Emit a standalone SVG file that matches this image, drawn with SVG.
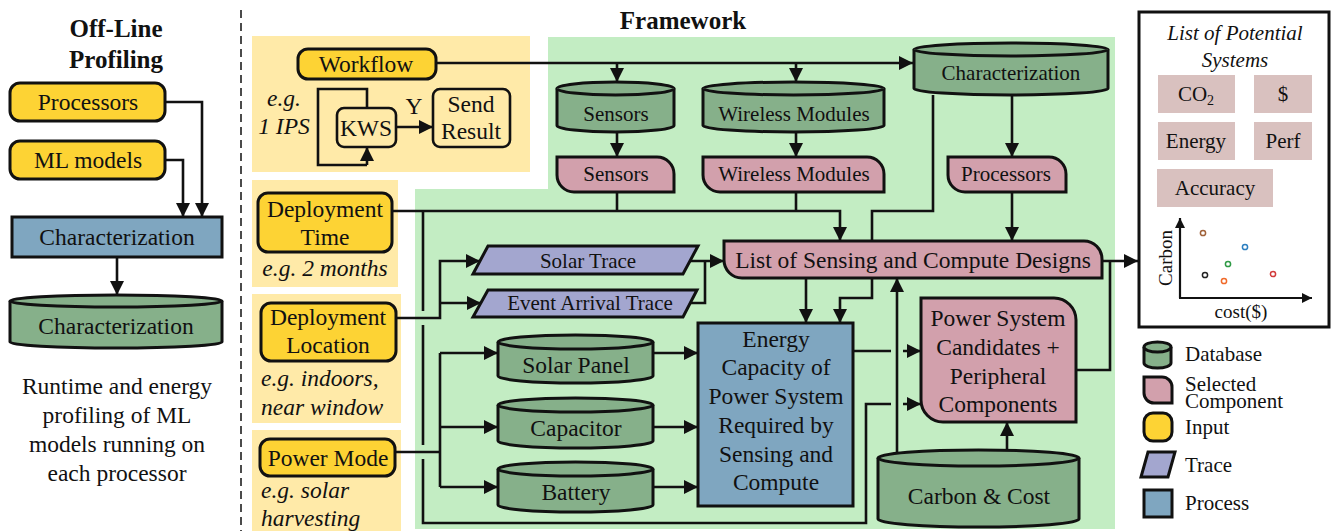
<svg xmlns="http://www.w3.org/2000/svg" width="1333" height="531" viewBox="0 0 1333 531">
<defs>
<style>
.t{font-family:'Liberation Serif','DejaVu Serif',serif;fill:#111;text-anchor:middle;dominant-baseline:central}
.L{font-size:23.5px}
.S{font-size:21px}
.X{font-size:19px}
.it{font-style:italic}
.b{font-weight:bold;font-size:25px;dominant-baseline:alphabetic}
.st{text-anchor:start}
.in{fill:#FDD334;stroke:#111;stroke-width:3}
.db{fill:#86B08A;stroke:#111;stroke-width:3}
.sel{fill:#D2A0AC;stroke:#111;stroke-width:3}
.tr{fill:#A3A6CF;stroke:#111;stroke-width:3}
.pr{fill:#7FA6C0;stroke:#111;stroke-width:3}
.wf{fill:none;stroke:#111;stroke-width:2.6}
.c{fill:none;stroke:#111;stroke-width:2.6}
.ca{fill:none;stroke:#111;stroke-width:2.6;marker-end:url(#ah)}
.pan{fill:#FFEAA8}
.ps{fill:#D9C1BF}
</style>
<marker id="ah" viewBox="0 0 10 10" refX="10" refY="5" markerWidth="14" markerHeight="14" markerUnits="userSpaceOnUse" orient="auto"><path d="M0,0 L10,5 L0,10 z" fill="#111"/></marker>
<marker id="ahs" viewBox="0 0 10 10" refX="10" refY="5" markerWidth="10" markerHeight="10" markerUnits="userSpaceOnUse" orient="auto"><path d="M0,0 L10,5 L0,10 z" fill="#111"/></marker>
</defs>
<rect width="1333" height="531" fill="#fff"/>

<!-- backgrounds -->
<g id="backgrounds">
<polygon points="548,37 1115,37 1115,529 415,529 415,189 548,189" fill="#C3EDC3"/>
<rect class="pan" x="252" y="36" width="278" height="136"/>
<rect class="pan" x="252" y="180" width="146" height="107"/>
<rect class="pan" x="252" y="294" width="149" height="129"/>
<rect class="pan" x="252" y="430" width="149" height="101"/>
<path d="M241,10 V531" stroke="#111" stroke-width="1.5" stroke-dasharray="8 5" fill="none"/>
</g>

<!-- titles -->
<text class="t b" x="116" y="37">Off-Line</text>
<text class="t b" x="116" y="68">Profiling</text>
<text class="t b" x="683" y="29">Framework</text>

<!-- connectors -->
<g id="connectors">
<path class="ca" d="M165,102 H202 V217"/>
<path class="ca" d="M165,160 H183 V217"/>
<path class="ca" d="M117,257 V295"/>
<path class="wf" d="M367,108 V89 H318 V165 H367"/>
<path class="ca" d="M367,165 V147"/>
<path class="ca" d="M396,127 H433"/>
<path class="ca" d="M436,63 H913"/>
<path class="ca" d="M617,63 V82"/>
<path class="ca" d="M796,63 V82"/>
<path class="ca" d="M617,132 V157"/>
<path class="ca" d="M796,132 V157"/>
<path class="c" d="M617,192 V211"/>
<path class="c" d="M796,192 V211"/>
<path class="ca" d="M392,211 H840 V241"/>
<path class="ca" d="M933,95 V211 H872 V298 H840 V323"/>
<path class="ca" d="M806,278 V323"/>
<path class="ca" d="M1012,95 V157"/>
<path class="ca" d="M1012,192 V241"/>
<path class="ca" d="M423,211 V311 M423,325 V445 M423,459 V523 H866 V404 H891 M903,404 H921"/>
<path class="ca" d="M396,318 H440 V261 H480"/>
<path class="ca" d="M440,303 H481"/>
<path class="c" d="M395,452 H440"/>
<path class="c" d="M440,353 V487"/>
<path class="ca" d="M440,353 H498"/>
<path class="ca" d="M440,427 H498"/>
<path class="ca" d="M440,487 H498"/>
<path class="ca" d="M653,353 H698"/>
<path class="ca" d="M653,427 H698"/>
<path class="ca" d="M653,487 H698"/>
<path class="ca" d="M690,261 H724"/>
<path class="c" d="M690,303 H705 V261"/>
<path class="ca" d="M853,351 H891 M903,351 H921"/>
<path class="ca" d="M897,452 V278"/>
<path class="ca" d="M1007,452 V422"/>
<path class="c" d="M1076,370 H1110 V261"/>
<path class="ca" d="M1102,261 H1138"/>
</g>

<!-- left panel nodes -->
<g id="off-processors"><rect class="in" x="10" y="83" width="155" height="38" rx="10"/><text class="t L" x="88" y="102">Processors</text></g>
<g id="off-ml"><rect class="in" x="10" y="141" width="155" height="38" rx="10"/><text class="t L" x="88" y="160">ML models</text></g>
<g id="off-char-proc"><rect class="pr" x="12" y="217" width="210" height="40"/><text class="t L" x="117" y="237">Characterization</text></g>
<g id="off-char-db"><path class="db" d="M10,301 A106,6 0 0 1 222,301 V342 A106,6 0 0 1 10,342 Z"/><path class="db" d="M10,301 A106,6 0 0 0 222,301" fill="none"/><text class="t L" x="116" y="326">Characterization</text></g>
<g id="off-desc">
<text class="t L" x="117" y="386">Runtime and energy</text>
<text class="t L" x="117" y="415">profiling of ML</text>
<text class="t L" x="117" y="444">models running on</text>
<text class="t L" x="117" y="473">each processor</text>
</g>

<!-- workflow -->
<g id="workflow"><rect class="in" x="298" y="49" width="138" height="30" rx="10"/><text class="t L" x="366" y="64">Workflow</text></g>
<g id="workflow-eg"><text class="t L it" x="284" y="98">e.g.</text><text class="t L it" x="284" y="126">1 IPS</text></g>
<g id="kws"><rect fill="#FFEAA8" stroke="#111" stroke-width="2.6" x="337" y="108" width="59" height="39" rx="7"/><text class="t L" x="366" y="128">KWS</text></g>
<text class="t L" x="414" y="106">Y</text>
<g id="send"><rect fill="#FFEAA8" stroke="#111" stroke-width="2.6" x="433" y="89" width="77" height="58" rx="7"/><text class="t L" x="471" y="104">Send</text><text class="t L" x="471" y="131">Result</text></g>

<!-- inputs -->
<g id="dep-time"><rect class="in" x="258" y="193" width="134" height="59" rx="10"/><text class="t L" x="325" y="209">Deployment</text><text class="t L" x="325" y="237">Time</text><text class="t L it" x="325" y="268">e.g. 2 months</text></g>
<g id="dep-loc"><rect class="in" x="261" y="303" width="135" height="58" rx="10"/><text class="t L" x="328" y="317">Deployment</text><text class="t L" x="328" y="345">Location</text><text class="t L it st" x="261" y="378">e.g. indoors,</text><text class="t L it st" x="261" y="407">near window</text></g>
<g id="power-mode"><rect class="in" x="260" y="439" width="135" height="37" rx="10"/><text class="t L" x="328" y="458">Power Mode</text><text class="t L it st" x="261" y="490">e.g. solar</text><text class="t L it st" x="261" y="518">harvesting</text></g>

<!-- databases -->
<g id="db-sensors"><path class="db" d="M557,88.5 A58.5,6.5 0 0 1 674,88.5 V125.5 A58.5,6.5 0 0 1 557,125.5 Z"/><path class="db" d="M557,88.5 A58.5,6.5 0 0 0 674,88.5" fill="none"/><text class="t S" x="616" y="114">Sensors</text></g>
<g id="db-wireless"><path class="db" d="M703,88.5 A90.5,6.5 0 0 1 884,88.5 V125.5 A90.5,6.5 0 0 1 703,125.5 Z"/><path class="db" d="M703,88.5 A90.5,6.5 0 0 0 884,88.5" fill="none"/><text class="t S" x="794" y="114">Wireless Modules</text></g>
<g id="db-char"><path class="db" d="M914,49.5 A97,6.5 0 0 1 1108,49.5 V88.5 A97,6.5 0 0 1 914,88.5 Z"/><path class="db" d="M914,49.5 A97,6.5 0 0 0 1108,49.5" fill="none"/><text class="t S" x="1011" y="73">Characterization</text></g>

<!-- selected components -->
<g id="sel-sensors"><path class="sel" d="M557,157 H657 A17,17 0 0 1 674,174 V192 H574 A17,17 0 0 1 557,175 Z"/><text class="t S" x="616" y="174">Sensors</text></g>
<g id="sel-wireless"><path class="sel" d="M703,157 H867 A17,17 0 0 1 884,174 V192 H720 A17,17 0 0 1 703,175 Z"/><text class="t S" x="794" y="174">Wireless Modules</text></g>
<g id="sel-processors"><path class="sel" d="M948,157 H1049 A17,17 0 0 1 1066,174 V192 H965 A17,17 0 0 1 948,175 Z"/><text class="t S" x="1006" y="174">Processors</text></g>
<g id="list-designs"><path class="sel" d="M724,241 H1084 A18,18 0 0 1 1102,259 V278 H742 A18,18 0 0 1 724,260 Z"/><text class="t L" x="913" y="260">List of Sensing and Compute Designs</text></g>

<!-- traces -->
<g id="solar-trace"><polygon class="tr" points="488,246 698,246 683,274 473,274"/><text class="t S" x="588" y="261">Solar Trace</text></g>
<g id="event-trace"><polygon class="tr" points="488,290 697,290 683,317 473,317"/><text class="t S" x="590" y="303">Event Arrival Trace</text></g>

<!-- power components -->
<g id="db-solar"><path class="db" d="M498,342 A77.5,7 0 0 1 653,342 V376 A77.5,7 0 0 1 498,376 Z"/><path class="db" d="M498,342 A77.5,7 0 0 0 653,342" fill="none"/><text class="t L" x="576" y="365">Solar Panel</text></g>
<g id="db-capacitor"><path class="db" d="M498,405 A77.5,7 0 0 1 653,405 V441 A77.5,7 0 0 1 498,441 Z"/><path class="db" d="M498,405 A77.5,7 0 0 0 653,405" fill="none"/><text class="t L" x="576" y="428">Capacitor</text></g>
<g id="db-battery"><path class="db" d="M498,469 A77.5,7 0 0 1 653,469 V505 A77.5,7 0 0 1 498,505 Z"/><path class="db" d="M498,469 A77.5,7 0 0 0 653,469" fill="none"/><text class="t L" x="576" y="492">Battery</text></g>

<g id="energy"><rect class="pr" x="698" y="323" width="155" height="183"/>
<text class="t L" x="776" y="339">Energy</text>
<text class="t L" x="776" y="367">Capacity of</text>
<text class="t L" x="776" y="396">Power System</text>
<text class="t L" x="776" y="425">Required by</text>
<text class="t L" x="776" y="454">Sensing and</text>
<text class="t L" x="776" y="482">Compute</text></g>

<g id="psc"><path class="sel" d="M921,298 H1054 A22,22 0 0 1 1076,320 V422 H943 A22,22 0 0 1 921,400 Z"/>
<text class="t L" x="998" y="318">Power System</text>
<text class="t L" x="998" y="347">Candidates +</text>
<text class="t L" x="998" y="376">Peripheral</text>
<text class="t L" x="998" y="404">Components</text></g>

<g id="db-carbon"><path class="db" d="M878,458 A100.5,8 0 0 1 1079,458 V519 A100.5,8 0 0 1 878,519 Z"/><path class="db" d="M878,458 A100.5,8 0 0 0 1079,458" fill="none"/><text class="t L" x="979" y="496">Carbon &amp; Cost</text></g>

<!-- potential systems -->
<g id="potential">
<rect x="1139" y="12" width="190" height="315" fill="#fff" stroke="#111" stroke-width="3"/>
<text class="t S it" x="1235" y="33">List of Potential</text>
<text class="t S it" x="1235" y="60">Systems</text>
<rect class="ps" x="1158" y="75" width="77" height="38"/><text class="t S" x="1196" y="94">CO<tspan font-size="14" dy="6">2</tspan></text>
<rect class="ps" x="1254" y="75" width="58" height="38"/><text class="t S" x="1283" y="94">$</text>
<rect class="ps" x="1158" y="122" width="77" height="38"/><text class="t S" x="1196" y="141">Energy</text>
<rect class="ps" x="1254" y="122" width="58" height="38"/><text class="t S" x="1283" y="141">Perf</text>
<rect class="ps" x="1157" y="169" width="116" height="38"/><text class="t S" x="1215" y="188">Accuracy</text>
<path d="M1180,298 V218" fill="none" stroke="#111" stroke-width="2.2" marker-end="url(#ahs)"/>
<path d="M1179,298 H1312" fill="none" stroke="#111" stroke-width="2.2" marker-end="url(#ahs)"/>
<text class="t X" transform="translate(1165,258) rotate(-90)">Carbon</text>
<text class="t X" x="1241" y="311">cost($)</text>
<g fill="#fff" stroke-width="1.5">
<circle cx="1203" cy="233" r="2.6" stroke="#A0623A"/>
<circle cx="1245" cy="247" r="2.6" stroke="#2C7FC0"/>
<circle cx="1228" cy="264" r="2.6" stroke="#2E9A45"/>
<circle cx="1205" cy="275" r="2.6" stroke="#222"/>
<circle cx="1224" cy="281" r="2.6" stroke="#F06A2A"/>
<circle cx="1273" cy="274" r="2.6" stroke="#D23A3A"/>
</g>
</g>

<!-- legend -->
<g id="legend">
<path class="db" d="M1144,347 A13.5,5 0 0 1 1171,347 V363 A13.5,5 0 0 1 1144,363 Z"/><path class="db" d="M1144,347 A13.5,5 0 0 0 1171,347" fill="none"/>
<text class="t S st" x="1185" y="354">Database</text>
<path class="sel" d="M1144,377 H1162 A10,10 0 0 1 1172,387 V403 H1154 A10,10 0 0 1 1144,393 Z"/>
<text class="t S st" x="1185" y="384">Selected</text>
<text class="t S st" x="1185" y="401">Component</text>
<rect class="in" x="1144" y="413" width="28" height="28" rx="9"/>
<text class="t S st" x="1185" y="427">Input</text>
<polygon class="tr" points="1148,452 1175,452 1168,477 1141,477"/>
<text class="t S st" x="1185" y="465">Trace</text>
<rect class="pr" x="1144" y="490" width="28" height="27"/>
<text class="t S st" x="1185" y="503">Process</text>
</g>
</svg>
